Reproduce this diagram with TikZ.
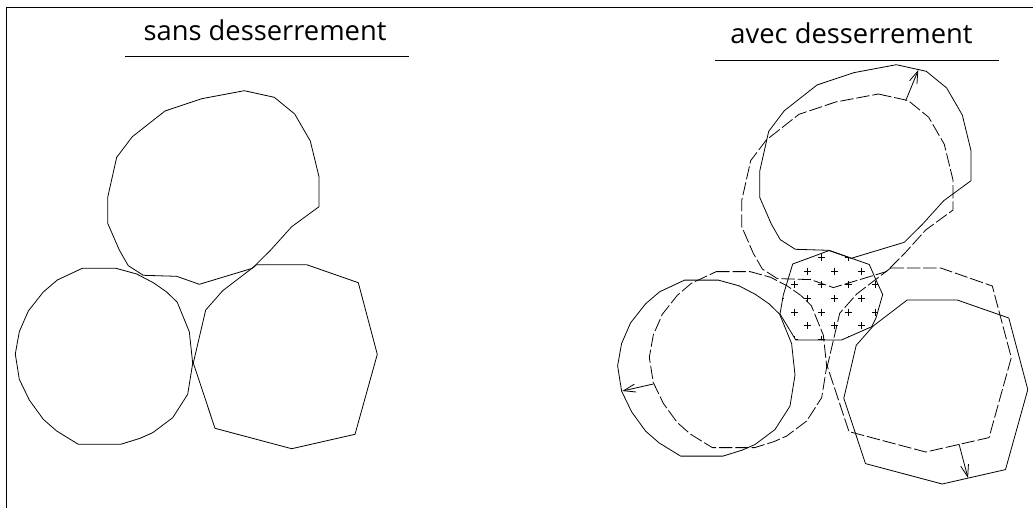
\documentclass[tikz,border=0pt]{standalone}
\usepackage{fontspec}
\setmainfont{Open Sans}
\usetikzlibrary{arrows.meta}
% Outlines, in pixels of the left figure:
\newcommand{\outlineTop}{(244.3, 90.7) -- (274.3, 97.3) -- (294.7,114.0) -- (310.3,141.0) -- (319.0,176.7) -- (319.0,206.7)
    -- (291.7,226.7) -- (270.7,250.0) -- (252.3,268.3) -- (199.3,284.3) -- (176.7,276.3) -- (143.3,275.3) -- (128.3,265.7)
    -- (119.3,250.0) -- (107.7,223.3) -- (107.7,197.3) -- (116.7,157.3) -- (132.3,136.7) -- (165.0,111.0) -- (201.7, 98.7) -- cycle}
\newcommand{\outlineLeft}{( 82.3,268.3) -- (116.0,268.3) -- (136.7,274.0) -- (153.3,282.7) -- (166.7,292.0) -- (177.3,302.3)
    -- (189.3,331.7) -- (192.7,363.3) -- (187.7,394.3) -- (172.7,417.7) -- (152.7,432.7) -- (140.0,438.3) -- (120.7,444.3)
    -- ( 78.3,444.3) -- ( 56.7,431.0) -- ( 43.3,419.3) -- ( 29.3,400.0) -- ( 19.3,379.3) -- ( 15.3,354.0) -- ( 19.3,331.7)
    -- ( 28.3,311.0) -- ( 43.3,292.0) -- ( 57.3,280.0) -- cycle}
\newcommand{\outlineRight}{(256.7,264.7) -- (306.7,264.7) -- (358.3,282.7) -- (377.3,354.3) -- (355.0,434.3) -- (291.7,448.7)
    -- (215.0,428.3) -- (193.3,363.0) -- (205.7,310.0) -- (222.7,290.7) -- cycle}
\newcommand{\outlineCore}{(829.3,250.5) -- (869.3,264.5) -- (876.0,280.0) -- (882.7,294.5) -- (876.0,318.0) -- (871.7,326.7)
    -- (841.5,340.0) -- (795.8,340.0) -- (780.0,314.0) -- (783.3,295.0) -- (792.7,264.0) -- cycle}
\tikzset{
    shape line/.style={line width=0.6pt, line join=round},
    loose line/.style={shape line, dash pattern=on 10pt off 2.2pt},
    move arrow/.style={shape line, -{Straight Barb[length=9pt,width=6pt]}},
    title text/.style={font=\fontsize{20.5}{24}\selectfont, anchor=base}
}

\begin{document}
\begin{tikzpicture}[x=0.75pt, y=-0.75pt]
            % Frame to ensure alignment:
            \useasboundingbox (0,0) rectangle (1033,508);
            \draw[line width=0.75pt] (1033,7) -- (6.5,7) -- (6.5,508);

            % Left figure:
            \node[title text] (titleLeft) at (265,40) {sans desserrement};
            \coordinate (ruleLeftA) at (125,56.5);
            \coordinate (ruleLeftB) at (409,56.5);
            \draw[line width=0.6pt] (ruleLeftA) -- (ruleLeftB);
            \draw[shape line] \outlineTop;
            \draw[shape line] \outlineLeft;
            \draw[shape line] \outlineRight;

            % Right figure:
            \node[title text] (titleRight) at (851.5,43.5) {avec desserrement};
            \coordinate (ruleRightA) at (715,60.5);
            \coordinate (ruleRightB) at (999,60.5);
            \draw[line width=0.6pt] (ruleRightA) -- (ruleRightB);
            \draw[shape line, shift={(652,-26)}]   \outlineTop;
            \draw[shape line, shift={(602.3,11.8)}] \outlineLeft;
            \draw[shape line, shift={(650.5,35.3)}] \outlineRight;
            \draw[loose line, shift={(634,3.3)}]    \outlineTop;
            \draw[loose line, shift={(634,3.3)}]    \outlineLeft;
            \draw[loose line, shift={(634,3.3)}]    \outlineRight;

            % Crosses inside the core:
            \begin{scope}
                \clip \outlineCore;
                \foreach \ypos in {257.3,284.3,312.0,339.3}
                    \foreach \xpos in {794.3,821.3,848.3,875.3}
                        \draw[line width=0.6pt] (\xpos-3.5,\ypos) -- (\xpos+3.5,\ypos) (\xpos,\ypos-3.5) -- (\xpos,\ypos+3.5);
                \foreach \ypos in {271.0,298.3,325.7}
                    \foreach \xpos in {780.7,807.7,834.7,861.7}
                        \draw[line width=0.6pt] (\xpos-3.5,\ypos) -- (\xpos+3.5,\ypos) (\xpos,\ypos-3.5) -- (\xpos,\ypos+3.5);
            \end{scope}
            \draw[shape line] \outlineCore;

            % Arrows from dashed to solid:
            \coordinate (topFrom)   at (905.7,100.7);
            \coordinate (topTo)     at (918.3, 70.0);
            \coordinate (leftFrom)  at (653.3,384.0);
            \coordinate (leftTo)    at (622.3,391.0);
            \coordinate (rightFrom) at (959.0,444.0);
            \coordinate (rightTo)   at (968.0,478.0);
            \draw[move arrow] (topFrom)   -- (topTo);
            \draw[move arrow] (leftFrom)  -- (leftTo);
            \draw[move arrow] (rightFrom) -- (rightTo);
        \end{tikzpicture}
\end{document}
